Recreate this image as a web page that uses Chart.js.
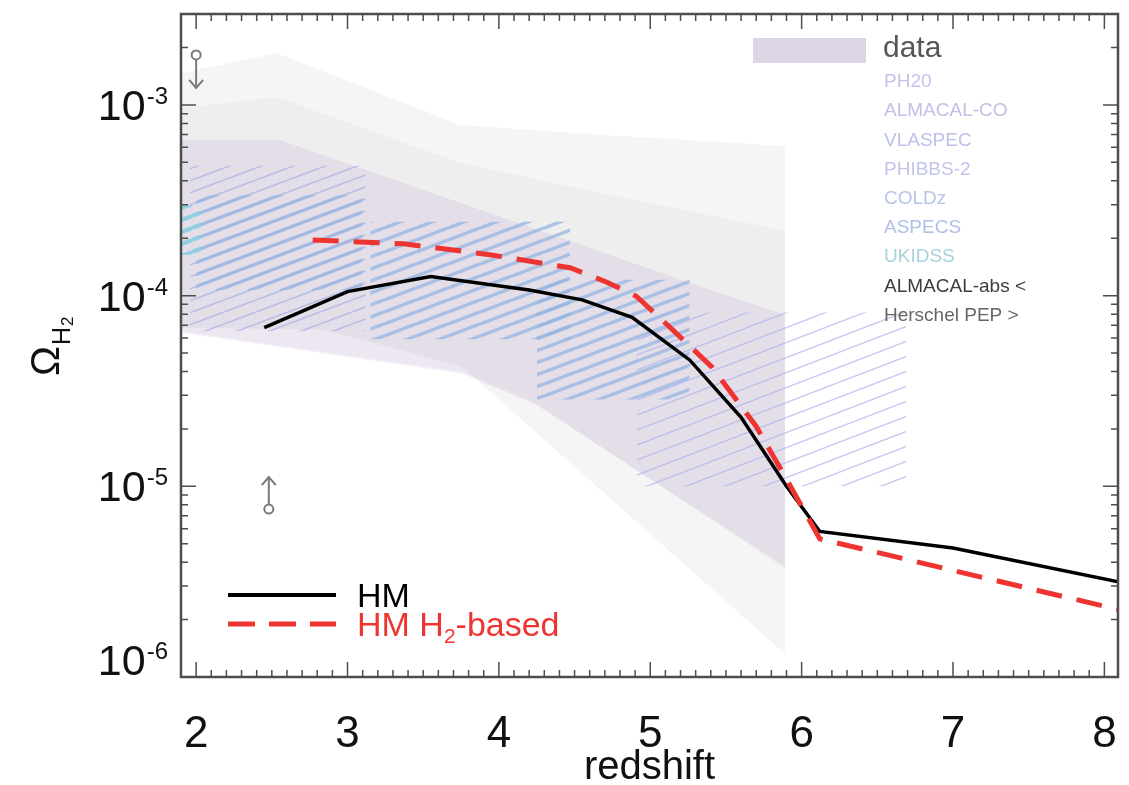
<!DOCTYPE html>
<html lang="en">
<head>
<meta charset="UTF-8">
<title>Omega H2 vs redshift</title>
<script src="https://cdn.jsdelivr.net/npm/chart.js"></script>
<style>
  html, body { margin: 0; padding: 0; background: #fff; }
  #wrap { position: relative; width: 1129px; height: 785px; }
</style>
</head>
<body>
<div id="wrap"><canvas id="chart"></canvas></div>
<script>
// model curves
const hmZ = [2.45, 3.0, 3.55, 4.2, 4.55, 4.88, 5.26, 5.6, 5.9, 6.12, 7.0, 8.1];
const hmOmega = [6.8e-5, 1.05e-4, 1.26e-4, 1.07e-4, 9.5e-5, 7.7e-5, 4.6e-5, 2.3e-5, 1.0e-5, 5.8e-6, 4.75e-6, 3.15e-6];
const h2Z = [2.77, 3.37, 3.94, 4.47, 4.71, 4.91, 5.15, 5.41, 5.7, 5.9, 6.12, 8.1];
const h2Omega = [1.96e-4, 1.87e-4, 1.64e-4, 1.4e-4, 1.18e-4, 9.9e-5, 6.6e-5, 4.2e-5, 2.06e-5, 1.09e-5, 5.3e-6, 2.25e-6];

// observational envelopes
const outerUpZ = [1.9, 2.535, 3.743, 4.667, 5.89];
const outerUp = [1.47e-3, 1.87e-3, 7.85e-4, 6.97e-4, 6.1e-4];
const outerLoZ = [1.9, 2.84, 3.756, 5.89];
const outerLo = [6.79e-5, 6.63e-5, 4.25e-5, 1.32e-6];

const innerUpZ = [1.9, 2.535, 3.743, 4.667, 5.89];
const innerUp = [9.64e-4, 1.1e-3, 4.97e-4, 3.46e-4, 2.19e-4];
const innerLoZ = [1.9, 3.756, 4.238, 5.89];
const innerLo = [6.48e-5, 4.0e-5, 2.75e-5, 3.67e-6];

const dataUpZ = [1.9, 2.554, 5.26, 5.89];
const dataUp = [6.56e-4, 6.56e-4, 1.17e-4, 7.95e-5];
const dataLoZ = [1.9, 3.756, 4.238, 5.89];
const dataLo = [6.4e-5, 3.9e-5, 2.7e-5, 3.8e-6];

// survey boxes: [zMin, zMax, omegaMin, omegaMax]
const boxThinLeft = [1.96, 3.12, 6.5e-5, 4.8e-4];
const boxThickLeft = [2.0, 3.1, 1.07e-4, 3.38e-4];
const boxMid = [3.15, 4.47, 5.9e-5, 2.44e-4];
const boxRight = [4.25, 5.26, 2.85e-5, 1.21e-4];
const boxHigh = [4.91, 6.69, 1.0e-5, 8.15e-5];
const boxUkidss = [1.9, 2.03, 1.64e-4, 2.99e-4];

// limits
const upperLimit = [{ x: 2.0, y: 1.83e-3 }];
const lowerLimit = [{ x: 2.48, y: 7.6e-6 }];

const xTicks = [2, 3, 4, 5, 6, 7, 8];
const yTicks = [1e-6, 1e-5, 1e-4, 1e-3];

const legendNames = ['PH20', 'ALMACAL-CO', 'VLASPEC', 'PHIBBS-2', 'COLDz', 'ASPECS', 'UKIDSS', 'ALMACAL-abs <', 'Herschel PEP >'];
const legendColors = ['#c6c0ea', '#c2c0e8', '#bcc0ea', '#c2c4ec', '#b8c4ea', '#afc0e6', '#a6d2e0', '#3c3c3c', '#666666'];

const FONT = '"Liberation Sans", Arial, Helvetica, sans-serif';

const pts = (xs, ys) => xs.map((v, i) => ({ x: v, y: ys[i] }));

function hatch(color, width, gap) {
  const w = Math.round(gap / 0.38), h = gap;
  const c = document.createElement('canvas');
  c.width = w; c.height = h;
  const g = c.getContext('2d');
  g.strokeStyle = color;
  g.lineWidth = width;
  for (const k of [-1, 0, 1]) {
    g.beginPath();
    g.moveTo(0, h + k * h);
    g.lineTo(w, k * h);
    g.stroke();
  }
  return g.createPattern(c, 'repeat');
}

const thickBlue = hatch('rgba(150,180,226,0.75)', 3.5, 12);
const thinBlue = hatch('rgba(155,172,228,0.65)', 1.6, 12);
const thinLav = hatch('rgba(172,180,234,0.7)', 1.4, 15);
const cyan = hatch('rgba(140,205,225,0.95)', 4, 12);

const hidden = { borderWidth: 0, borderColor: 'transparent', pointRadius: 0 };

function band(upZ, up, loZ, lo, color, order) {
  return [
    { data: pts(upZ, up), fill: '+1', backgroundColor: color, order, ...hidden },
    { data: pts(loZ, lo), fill: false, order, ...hidden }
  ];
}

function box(b, pattern, order) {
  return [
    { data: pts([b[0], b[1]], [b[3], b[3]]), fill: '+1', backgroundColor: pattern, order, ...hidden },
    { data: pts([b[0], b[1]], [b[2], b[2]]), fill: false, order, ...hidden }
  ];
}

const datasets = [
  ...band(outerUpZ, outerUp, outerLoZ, outerLo, '#f5f5f5', 40),
  ...band(innerUpZ, innerUp, innerLoZ, innerLo, 'rgba(0,0,0,0.028)', 35),
  ...band(dataUpZ, dataUp, dataLoZ, dataLo, 'rgba(165,130,190,0.14)', 30),
  ...box(boxHigh, thinLav, 20),
  ...box(boxThinLeft, thinBlue, 19),
  ...box(boxThickLeft, thickBlue, 18),
  ...box(boxMid, thickBlue, 17),
  ...box(boxRight, thickBlue, 16),
  ...box(boxUkidss, cyan, 15),
  {
    label: 'HM', data: pts(hmZ, hmOmega), borderColor: '#000', borderWidth: 3.5,
    pointRadius: 0, fill: false, tension: 0, order: 1
  },
  {
    label: 'HM H2-based', data: pts(h2Z, h2Omega), borderColor: '#ee3431', borderWidth: 5,
    borderDash: [26, 15], pointRadius: 0, fill: false, tension: 0, order: 0
  },
  {
    label: 'upper', data: upperLimit, showLine: false, pointRadius: 4.5, pointBorderWidth: 2,
    pointBorderColor: '#7a7a7a', pointBackgroundColor: '#fff', order: 2
  },
  {
    label: 'lower', data: lowerLimit, showLine: false, pointRadius: 4.5, pointBorderWidth: 2,
    pointBorderColor: '#7a7a7a', pointBackgroundColor: '#fff', order: 2
  }
];

const axesPlugin = {
  id: 'idlAxes',
  afterDatasetsDraw(chart) {
    const { ctx, chartArea: a, scales: { x, y } } = chart;
    ctx.save();

    // limit arrows
    ctx.strokeStyle = '#7a7a7a';
    ctx.lineWidth = 2;
    const up = chart.getDatasetMeta(datasets.length - 2).data[0];
    const lo = chart.getDatasetMeta(datasets.length - 1).data[0];
    ctx.beginPath();
    ctx.moveTo(up.x, up.y + 5); ctx.lineTo(up.x, up.y + 33);
    ctx.moveTo(up.x - 7, up.y + 25); ctx.lineTo(up.x, up.y + 33); ctx.lineTo(up.x + 7, up.y + 25);
    ctx.moveTo(lo.x, lo.y - 5); ctx.lineTo(lo.x, lo.y - 32);
    ctx.moveTo(lo.x - 7, lo.y - 24); ctx.lineTo(lo.x, lo.y - 32); ctx.lineTo(lo.x + 7, lo.y - 24);
    ctx.stroke();

    // ticks
    ctx.strokeStyle = '#4d4d4d';
    ctx.lineWidth = 1.5;
    ctx.beginPath();
    for (let k = Math.ceil(x.min * 10); k <= Math.floor(x.max * 10); k++) {
      const px = x.getPixelForValue(k / 10);
      const len = k % 10 === 0 ? 15 : 7;
      ctx.moveTo(px, a.bottom); ctx.lineTo(px, a.bottom - len);
      ctx.moveTo(px, a.top); ctx.lineTo(px, a.top + len);
    }
    for (let d = -7; d <= -2; d++) {
      for (let m = 1; m <= 9; m++) {
        const v = m * Math.pow(10, d);
        if (v < y.min * 0.999 || v > y.max) continue;
        const py = y.getPixelForValue(v);
        const len = m === 1 ? 15 : 7;
        ctx.moveTo(a.left, py); ctx.lineTo(a.left + len, py);
        ctx.moveTo(a.right, py); ctx.lineTo(a.right - len, py);
      }
    }
    ctx.stroke();

    // frame
    ctx.lineWidth = 2.5;
    ctx.strokeRect(a.left, a.top, a.right - a.left, a.bottom - a.top);
    ctx.restore();
  },
  afterDraw(chart) {
    const { ctx, chartArea: a, scales: { x, y } } = chart;
    ctx.save();
    ctx.fillStyle = '#111';
    ctx.textBaseline = 'alphabetic';

    // y tick labels
    for (const v of yTicks) {
      const cy = Math.min(y.getPixelForValue(v), a.bottom - 17);
      const exp = String(Math.round(Math.log10(v)));
      ctx.font = '43px ' + FONT;
      const w10 = ctx.measureText('10').width;
      ctx.font = '24px ' + FONT;
      const wE = ctx.measureText(exp).width;
      const x0 = 168 - wE - 1 - w10;
      ctx.font = '43px ' + FONT;
      ctx.textAlign = 'left';
      ctx.fillText('10', x0, cy + 15);
      ctx.font = '24px ' + FONT;
      ctx.fillText(exp, x0 + w10 + 1, cy - 1);
    }

    // x tick labels
    ctx.font = '44px ' + FONT;
    ctx.textAlign = 'center';
    for (const v of xTicks) ctx.fillText(String(v), x.getPixelForValue(v), 747);

    // x title
    ctx.font = '40px ' + FONT;
    ctx.fillText('redshift', (a.left + a.right) / 2, 779);

    // y title
    ctx.save();
    ctx.translate(59, 376);
    ctx.rotate(-Math.PI / 2);
    ctx.textAlign = 'left';
    ctx.font = '40px ' + FONT;
    ctx.fillText('\u03A9', 0, 0);
    const wO = ctx.measureText('\u03A9').width;
    ctx.font = '25px ' + FONT;
    ctx.fillText('H', wO + 1, 11);
    const wH = ctx.measureText('H').width;
    ctx.font = '17px ' + FONT;
    ctx.fillText('2', wO + 2 + wH, 14);
    ctx.restore();

    // data legend (top right)
    ctx.fillStyle = '#ddd4e6';
    ctx.fillRect(753, 38, 113, 25);
    ctx.textAlign = 'left';
    ctx.textBaseline = 'middle';
    ctx.fillStyle = '#555';
    ctx.font = '30px ' + FONT;
    ctx.fillText('data', 883, 49);
    ctx.font = '19px ' + FONT;
    legendNames.forEach((n, i) => {
      ctx.fillStyle = legendColors[i];
      ctx.fillText(n, 884, 82 + i * 29.2);
    });

    // model legend (bottom left)
    ctx.lineWidth = 4;
    ctx.strokeStyle = '#000';
    ctx.beginPath(); ctx.moveTo(228, 595); ctx.lineTo(336, 595); ctx.stroke();
    ctx.strokeStyle = '#ee3431';
    ctx.lineWidth = 5;
    ctx.setLineDash([27, 14]);
    ctx.beginPath(); ctx.moveTo(228, 624); ctx.lineTo(336, 624); ctx.stroke();
    ctx.setLineDash([]);
    ctx.textBaseline = 'alphabetic';
    ctx.font = '34px ' + FONT;
    ctx.fillStyle = '#000';
    ctx.fillText('HM', 357, 607);
    ctx.fillStyle = '#ee3431';
    ctx.fillText('HM H', 357, 636);
    let cx = 357 + ctx.measureText('HM H').width;
    ctx.font = '21px ' + FONT;
    ctx.fillText('2', cx, 643);
    cx += ctx.measureText('2').width;
    ctx.font = '34px ' + FONT;
    ctx.fillText('-based', cx, 636);
    ctx.restore();
  }
};

new Chart(document.getElementById('chart'), {
  type: 'line',
  data: { datasets },
  options: {
    responsive: true,
    maintainAspectRatio: false,
    animation: false,
    events: [],
    layout: { padding: { left: 181, top: 14, right: 11, bottom: 108 } },
    plugins: { legend: { display: false }, tooltip: { enabled: false } },
    scales: {
      x: { type: 'linear', min: 1.9, max: 8.09, display: false },
      y: { type: 'logarithmic', min: 1e-6, max: 3e-3, display: false }
    }
  },
  plugins: [axesPlugin]
});
</script>
</body>
</html>
